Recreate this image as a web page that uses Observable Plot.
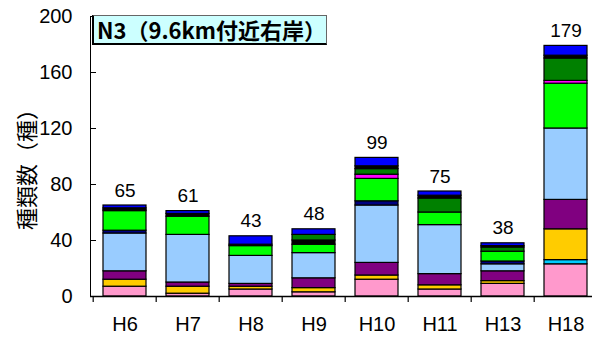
<!DOCTYPE html>
<html><head><meta charset="utf-8">
<script src="https://cdn.jsdelivr.net/npm/d3@7"></script>
<script src="https://cdn.jsdelivr.net/npm/@observablehq/plot@0.6"></script>
<style>
body{margin:0;background:#fff;}
#wrap{position:relative;width:592px;height:338px;overflow:hidden;}
#title{position:absolute;left:92px;top:15px;width:235px;height:30px;box-sizing:border-box;background:#ccffff;border:1px solid #666;border-left:2px solid #000;border-bottom:2px solid #000;font-family:"Noto Sans CJK JP",sans-serif;font-weight:bold;font-size:22px;line-height:27px;padding-left:3px;color:#000;z-index:2;white-space:nowrap;}
#ylabel{position:absolute;left:0;top:0;width:130px;height:26px;line-height:26px;text-align:center;transform-origin:65px 13px;transform:translate(-40px,152px) rotate(-90deg);font-family:"Noto Sans CJK JP",sans-serif;font-size:22px;color:#000;white-space:nowrap;z-index:2;}
</style></head>
<body><div id="wrap"><div id="title">N3（9.6km付近右岸）</div><div id="ylabel">種類数（種）</div></div>
<script>
const cats = ["H6","H7","H8","H9","H10","H11","H13","H18"];
const totals = [65,61,43,48,99,75,38,179];
const yTicks = [0,40,80,120,160,200];

const seriesNames = ["pink","cyan","yellow","purple","lightblue","navy","green","black1","magenta","darkgreen","black2","blue"];
const seriesColors = ["#ff99cc","#00ccff","#ffcc00","#800080","#99ccff","#000080","#00ff00","#000000","#ff00ff","#008000","#000000","#0000ff"];

const pink      = [7,2,5,3,12,5,9,23];
const cyan      = [0,0,0,0,0,0,0,3];
const yellow    = [5,5,2,3,3,3,2,22];
const purple    = [6,3,2,7,9,8,7,21];
const lightblue = [27,34,20,18,41,35,5,51];
const navy      = [2,0,0,0,3,0,2,0];
const green     = [14,13,7,6,16,9,7,32];
const black1    = [0,0,0,3,0,0,0,0];
const magenta   = [0,0,0,0,3,0,0,2];
const darkgreen = [1,0,0,4,4,10,3,16];
const black2    = [1,2,1,0,2,2,1,2];
const blue      = [2,2,6,4,6,3,2,7];

const seriesValues = [pink,cyan,yellow,purple,lightblue,navy,green,black1,magenta,darkgreen,black2,blue];
const rows = [];
seriesNames.forEach((s,i) => cats.forEach((c,j) => {
  const v = seriesValues[i][j];
  if (v > 0) rows.push({cat:c, series:s, value:v});
}));

const xRange = [90, 599];
const step = (xRange[1]-xRange[0]) / cats.length;

const chart = Plot.plot({
  width:592, height:338,
  marginLeft:90, marginRight:0, marginTop:16, marginBottom:42,
  style:{fontFamily:"'Liberation Sans','Noto Sans CJK JP',sans-serif", fontSize:"20px", background:"white", color:"black", overflow:"visible"},
  x:{domain:cats, range:xRange, paddingInner:0.32, paddingOuter:0.16, label:null, tickSize:0, tickPadding:20},
  y:{domain:[0,200], ticks:yTicks, tickSize:-6, tickPadding:24, line:true, label:null},
  color:{domain:seriesNames, range:seriesColors},
  marks:[
    Plot.barY(rows, {x:"cat", y:"value", fill:"series", order:seriesNames, stroke:"black", strokeWidth:1.2}),
    Plot.ruleY([0], {strokeWidth:1.5}),
    Plot.ruleX(cats, {x:d=>d, dx:-step/2, y1:0, y2:-4.3, strokeWidth:1.2}),
    Plot.text(cats, {x:d=>d, y:(d,i)=>totals[i], text:(d,i)=>String(totals[i]), dy:-15, fontSize:19})
  ]
});
document.getElementById("wrap").prepend(chart);
</script>
</body></html>
